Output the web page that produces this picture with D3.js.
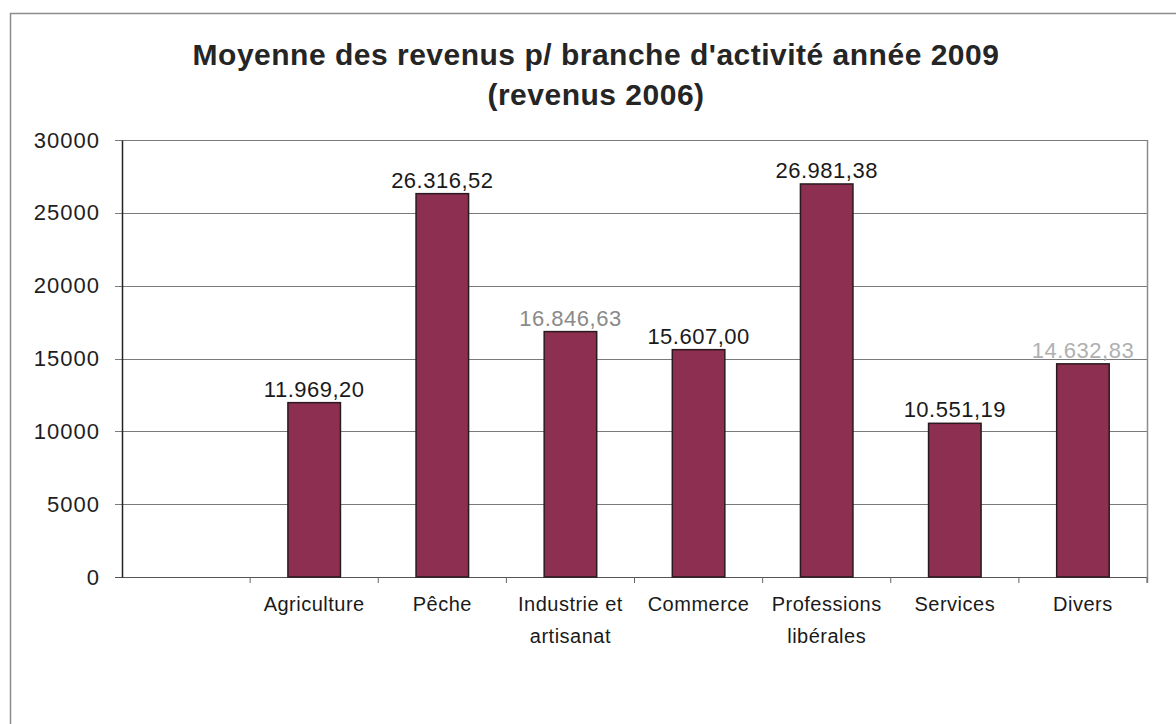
<!DOCTYPE html>
<html>
<head>
<meta charset="utf-8">
<script src="https://cdn.jsdelivr.net/npm/d3@7"></script>
<style>
  html, body { margin: 0; padding: 0; background: #fff; }
  svg { display: block; font-family: "Liberation Sans", Arial, sans-serif; }
</style>
</head>
<body>
<div id="chart"></div>
<script>
(function () {
  'use strict';

  // data (first slot is empty in the original)
  var categories = ['', 'Agriculture', 'Pêche', 'Industrie et\nartisanat', 'Commerce', 'Professions\nlibérales', 'Services', 'Divers'];
  var values = [null, 11969.20, 26316.52, 16846.63, 15607.00, 26981.38, 10551.19, 14632.83];
  var yTicks = [0, 5000, 10000, 15000, 20000, 25000, 30000];
  var titleLines = ["Moyenne des revenus p/ branche d'activité année 2009", '(revenus 2006)'];

  // the scan prints two of the labels in grey
  var labelColor = { 3: '#8a8a8a', 7: '#b0b0b0' };

  var width = 1176;
  var height = 724;
  var plot = { left: 122, right: 1147, top: 140, bottom: 577 };

  var fr = d3.formatLocale({ decimal: ',', thousands: '.', grouping: [3], currency: ['', ' €'] });
  var fmt = fr.format(',.2f');

  var svg = d3.select('#chart').append('svg')
    .attr('width', width)
    .attr('height', height);

  // outer frame of the pasted chart
  svg.append('path')
    .attr('d', 'M10.5,' + height + 'V13.5H' + width)
    .attr('fill', 'none')
    .attr('stroke', '#8c8c8c')
    .attr('stroke-width', 1.5);

  var title = svg.append('text')
    .attr('x', 596)
    .attr('text-anchor', 'middle')
    .attr('font-size', '30px')
    .attr('letter-spacing', '0.5px')
    .attr('font-weight', 'bold')
    .attr('fill', '#252525');
  titleLines.forEach(function (t, i) {
    title.append('tspan').attr('x', 596).attr('y', 65 + i * 40).text(t);
  });

  var x = d3.scaleBand()
    .domain(d3.range(categories.length))
    .range([plot.left, plot.right])
    .paddingInner(0.59)
    .paddingOuter(0.295);

  var xSlot = d3.scaleBand()
    .domain(d3.range(categories.length))
    .range([plot.left, plot.right]);

  var y = d3.scaleLinear()
    .domain([0, 30000])
    .range([plot.bottom, plot.top]);

  // gridlines
  svg.append('g').selectAll('line')
    .data(yTicks).enter().append('line')
    .attr('x1', plot.left - 7).attr('x2', plot.right)
    .attr('y1', function (d) { return Math.round(y(d)) + 0.5; })
    .attr('y2', function (d) { return Math.round(y(d)) + 0.5; })
    .attr('stroke', function (d) { return d === 0 ? '#555' : '#7a7a7a'; })
    .attr('stroke-width', 1.2);

  // right border of plot
  svg.append('line')
    .attr('x1', plot.right + 0.5).attr('x2', plot.right + 0.5)
    .attr('y1', plot.top).attr('y2', plot.bottom + 6)
    .attr('stroke', '#8c8c8c').attr('stroke-width', 1.5);

  // y axis
  var yAxis = svg.append('g')
    .attr('transform', 'translate(' + plot.left + ',0)')
    .call(d3.axisLeft(y).tickValues(yTicks).tickSize(0).tickPadding(22).tickFormat(d3.format('d')));
  yAxis.select('.domain').attr('stroke', '#222').attr('stroke-width', 1.5);
  yAxis.selectAll('text')
    .attr('font-size', '22px')
    .attr('letter-spacing', '1px')
    .attr('fill', '#1e1e1e')
    .attr('font-family', '"Liberation Sans", Arial, sans-serif');

  // x axis tick marks
  svg.append('g').selectAll('line')
    .data(d3.range(1, categories.length + 1)).enter().append('line')
    .attr('x1', function (i) { return plot.left + xSlot.step() * i; })
    .attr('x2', function (i) { return plot.left + xSlot.step() * i; })
    .attr('y1', plot.bottom).attr('y2', plot.bottom + 6)
    .attr('stroke', '#666').attr('stroke-width', 1);

  // bars
  var data = values.map(function (v, i) { return { i: i, v: v }; })
    .filter(function (d) { return d.v !== null; });

  svg.append('g').selectAll('rect')
    .data(data).enter().append('rect')
    .attr('x', function (d) { return x(d.i); })
    .attr('width', x.bandwidth())
    .attr('y', function (d) { return y(d.v); })
    .attr('height', function (d) { return y(0) - y(d.v); })
    .attr('fill', '#8c2f50')
    .attr('stroke', '#2a1a1f')
    .attr('stroke-width', 1.5);

  // value labels
  svg.append('g').selectAll('text')
    .data(data).enter().append('text')
    .attr('x', function (d) { return x(d.i) + x.bandwidth() / 2; })
    .attr('y', function (d) { return y(d.v) - 6; })
    .attr('text-anchor', 'middle')
    .attr('font-size', '22px')
    .attr('letter-spacing', '0.5px')
    .attr('fill', function (d) { return labelColor[d.i] || '#1a1a1a'; })
    .text(function (d) { return fmt(d.v); });

  // category labels
  var cat = svg.append('g').selectAll('text')
    .data(categories.map(function (c, i) { return { i: i, lines: c.split('\n') }; }))
    .enter().append('text')
    .attr('text-anchor', 'middle')
    .attr('font-size', '20px')
    .attr('letter-spacing', '0.5px')
    .attr('fill', '#1a1a1a');
  cat.each(function (d) {
    var t = d3.select(this);
    var cx = xSlot(d.i) + xSlot.bandwidth() / 2;
    d.lines.forEach(function (line, k) {
      t.append('tspan').attr('x', cx).attr('y', 611 + k * 32).text(line);
    });
  });
})();
</script>
</body>
</html>
